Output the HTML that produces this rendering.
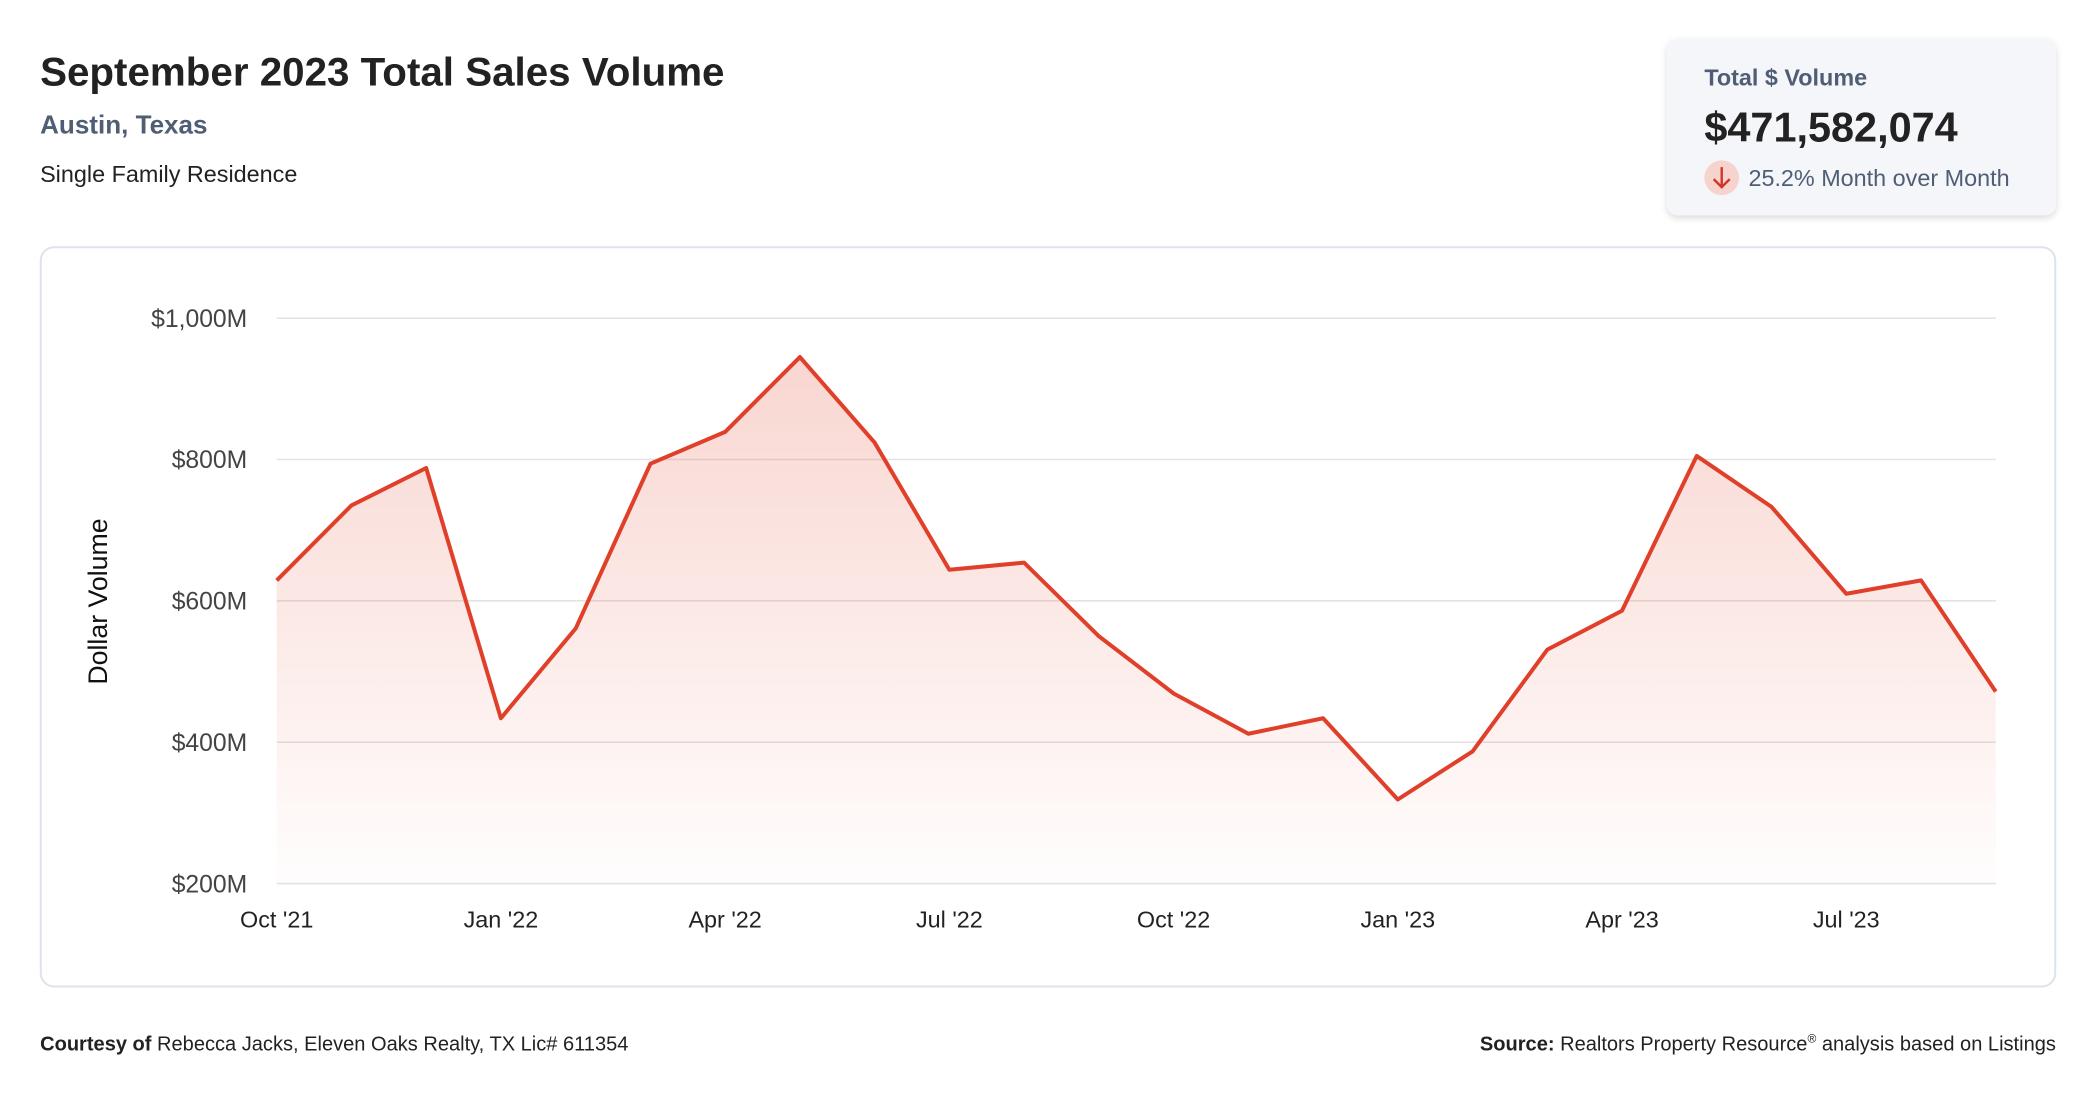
<!DOCTYPE html>
<html><head><meta charset="utf-8"><style>
html,body{margin:0;padding:0;background:#fff;width:2096px;height:1100px;overflow:hidden}
svg{display:block;font-family:"Liberation Sans",sans-serif}
</style></head><body>
<svg id="chart" width="2096" height="1100" viewBox="0 0 1568 822.9">
<defs>
<linearGradient id="fillg" x1="0" y1="0" x2="0" y2="1">
<stop offset="0" stop-color="#e4553f" stop-opacity="0.24"/>
<stop offset="1" stop-color="#e4553f" stop-opacity="0.01"/>
</linearGradient>
<filter id="sh" x="-10%" y="-10%" width="120%" height="130%"><feDropShadow dx="0" dy="2" stdDeviation="2.5" flood-color="#000" flood-opacity="0.15"/></filter>
</defs>
<text x="30" y="64" font-size="30" font-weight="bold" fill="#222" textLength="512" lengthAdjust="spacingAndGlyphs">September 2023 Total Sales Volume</text>
<text x="30" y="100" font-size="19.5" font-weight="bold" fill="#4f5d75">Austin, Texas</text>
<text x="30" y="136" font-size="17.5" fill="#222">Single Family Residence</text>

<g>
<rect x="1247" y="29" width="291" height="132" rx="8" fill="#f5f6f9" filter="url(#sh)"/>
<text x="1275" y="64" font-size="17.5" font-weight="bold" fill="#4f5d75">Total $ Volume</text>
<text x="1275" y="106" font-size="31" font-weight="bold" fill="#222">$471,582,074</text>
<circle cx="1288" cy="133" r="13" fill="#f7d3cd"/>
<path d="M1288 125 V140 M1282 134 L1288 140 L1294 134" stroke="#d0362a" stroke-width="1.8" fill="none"/>
<text x="1308" y="139" font-size="17.5" fill="#4f5d75">25.2% Month over Month</text>
</g>

<rect x="30.5" y="185" width="1507" height="553" rx="10" fill="#fff" stroke="#dde3ed" stroke-width="1.5"/>
<text transform="translate(80,450) rotate(-90)" text-anchor="middle" font-size="20" fill="#111">Dollar Volume</text>
<g id="grid"></g>
<g id="plot"></g>
<g id="xaxis"></g>

<text x="30" y="786" font-size="15" fill="#222"><tspan font-weight="bold">Courtesy of</tspan> Rebecca Jacks, Eleven Oaks Realty, TX Lic# 611354</text>
<text x="1538" y="786" font-size="15" fill="#222" text-anchor="end"><tspan font-weight="bold">Source:</tspan> Realtors Property Resource<tspan font-size="9" dy="-6">®</tspan><tspan dy="6"> analysis based on Listings</tspan></text>
</svg>
<script>
const months = ["Oct '21","Nov '21","Dec '21","Jan '22","Feb '22","Mar '22","Apr '22","May '22","Jun '22","Jul '22","Aug '22","Sep '22","Oct '22","Nov '22","Dec '22","Jan '23","Feb '23","Mar '23","Apr '23","May '23","Jun '23","Jul '23","Aug '23","Sep '23"];
const volumes = [629,735,788,434,561,794,839,945,824,644,654,550,469,412,434,319,387,531,586,805,733,610,629,471.6];
const yTicks = [200,400,600,800,1000];
const yTickLabels = ["$200M","$400M","$600M","$800M","$1,000M"];
const xTickIdx = [0,3,6,9,12,15,18,21];

const NS = "http://www.w3.org/2000/svg";
const X0 = 207, X1 = 1493, Y0 = 661, Y1 = 238, YMIN = 200, YMAX = 1000;
function xs(i){ return X0 + (X1 - X0) * i / (months.length - 1); }
function ys(v){ return Y0 - (v - YMIN) / (YMAX - YMIN) * (Y0 - Y1); }
function mk(tag, attrs, parent){ const e = document.createElementNS(NS, tag); for (const k in attrs) e.setAttribute(k, attrs[k]); parent.appendChild(e); return e; }

const grid = document.getElementById('grid');
yTicks.forEach((t, i) => {
  const l = mk('line', {x1: X0, x2: X1, y1: ys(t), y2: ys(t), stroke: '#e3e3e3', 'stroke-width': 1.2}, grid);
  
  
  const tx = mk('text', {x: 185, y: ys(t) + 6.5, 'text-anchor': 'end', 'font-size': 18.5, fill: '#444'}, grid);
  tx.textContent = yTickLabels[i];
  
  
});

const plot = document.getElementById('plot');
const pts = volumes.map((v, i) => xs(i).toFixed(1) + ',' + ys(v).toFixed(1));
const area = mk('path', {d: 'M' + xs(0) + ',' + Y0 + ' L' + pts.join(' L') + ' L' + xs(volumes.length - 1) + ',' + Y0 + ' Z', fill: 'url(#fillg)'}, plot);


const line = mk('polyline', {points: pts.join(' '), fill: 'none', stroke: '#e0402a', 'stroke-width': 3, 'stroke-linejoin': 'round'}, plot);



const xaxis = document.getElementById('xaxis');
xTickIdx.forEach(i => {
  const t = mk('text', {x: xs(i), y: 694, 'text-anchor': 'middle', 'font-size': 17.5, fill: '#222'}, xaxis);
  t.textContent = months[i];
  
  
});
</script>
</body></html>
